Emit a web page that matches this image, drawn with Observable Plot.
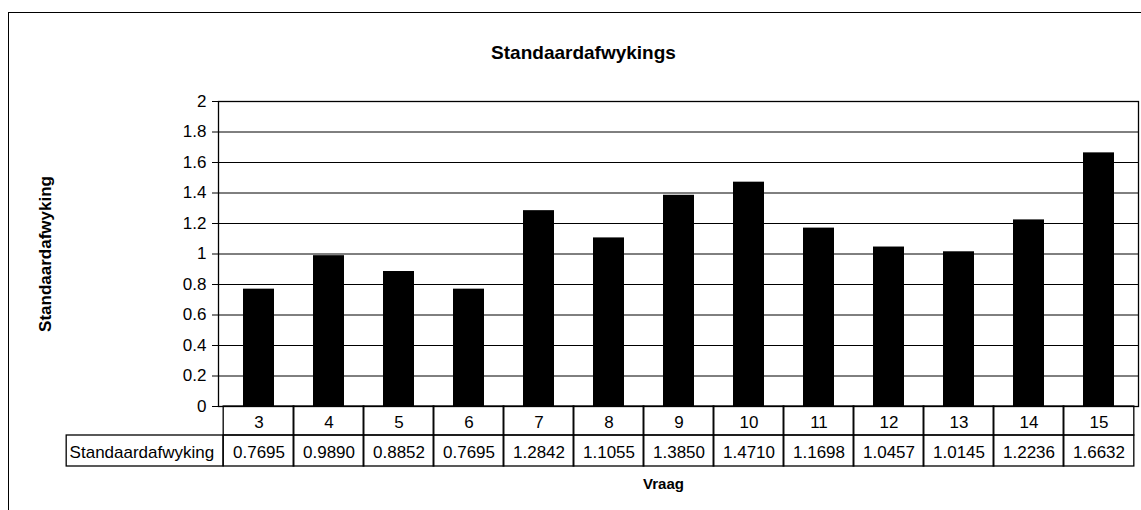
<!DOCTYPE html>
<html>
<head>
<meta charset="utf-8">
<script src="https://cdn.jsdelivr.net/npm/d3@7"></script>
<script src="https://cdn.jsdelivr.net/npm/@observablehq/plot@0.6"></script>
<style>
  html, body { margin: 0; padding: 0; background: #fff; }
  #wrap { position: relative; width: 1141px; height: 510px; overflow: hidden; }
  #outer { position: absolute; left: 8px; top: 12px; width: 1200px; height: 600px;
           border-left: 1.5px solid #000; border-top: 1.5px solid #000; pointer-events: none; }
  #wrap svg { position: absolute; left: 0; top: 0; }
</style>
</head>
<body>
<div id="wrap"><div id="outer"></div></div>
<script>
// ---- data ----
const categories = [3, 4, 5, 6, 7, 8, 9, 10, 11, 12, 13, 14, 15];
const values = [0.7695, 0.9890, 0.8852, 0.7695, 1.2842, 1.1055, 1.3850, 1.4710, 1.1698, 1.0457, 1.0145, 1.2236, 1.6632];
const yTicks = [0, 0.2, 0.4, 0.6, 0.8, 1, 1.2, 1.4, 1.6, 1.8, 2];
const titleText = "Standaardafwykings";
const yLabelText = "Standaardafwyking";
const xLabelText = "Vraag";
const rowHeader = "Standaardafwyking";

const data = categories.map((q, i) => ({q, v: values[i]}));

// ---- layout ----
const W = 1141, H = 510;
const mL = 218, mR = 3, mT = 101, mB = 104;
const frameW = W - mL - mR, frameH = H - mT - mB;
const pInner = 0.56;
const step = frameW / categories.length;
const bw = step * (1 - pInner);
const pad = step * pInner / 2;
const row1 = 29, row2 = 60;
const headerW = 157;

const chart = Plot.plot({
  width: W, height: H,
  marginLeft: mL, marginRight: mR, marginTop: mT, marginBottom: mB,
  style: {fontFamily: "'Liberation Sans', Arial, sans-serif", fontSize: "17px", color: "#000", background: "transparent"},
  x: {type: "band", domain: categories, paddingInner: pInner, paddingOuter: pInner / 2, axis: null},
  y: {domain: [0, 2], axis: null},
  marks: [
    Plot.gridY(yTicks, {stroke: "#000", strokeOpacity: 1, strokeWidth: 1}),
    Plot.barY(data, {x: "q", y: "v", fill: "#000"}),
    Plot.frame({stroke: "#000", strokeWidth: 1.3}),
    Plot.axisY({ticks: yTicks, tickSize: 6, tickPadding: 6, tickFormat: d => String(+d.toFixed(1)),
                fontSize: 17, label: null, stroke: "#000"}),
    // table: category row
    Plot.cell(data, {x: "q", fill: "none", stroke: "#000", strokeWidth: 1.3,
      insetTop: frameH, insetBottom: -row1, insetLeft: -pad, insetRight: -pad}),
    // table: value row
    Plot.cell(data, {x: "q", fill: "none", stroke: "#000", strokeWidth: 1.3,
      insetTop: frameH + row1, insetBottom: -row2, insetLeft: -pad, insetRight: -pad}),
    // header cell
    Plot.cell([categories[0]], {x: d => d, fill: "none", stroke: "#000", strokeWidth: 1.3,
      insetTop: frameH + row1, insetBottom: -row2, insetLeft: -(pad + headerW), insetRight: bw + pad}),
    Plot.text(data, {x: "q", text: d => String(d.q), frameAnchor: "bottom", lineAnchor: "middle", dy: 16, fontSize: 17}),
    Plot.text(data, {x: "q", text: d => d.v.toFixed(4), frameAnchor: "bottom", lineAnchor: "middle", dy: 46, fontSize: 17}),
    Plot.text([rowHeader], {x: () => categories[0], text: d => d, frameAnchor: "bottom", lineAnchor: "middle", dy: 46,
      dx: -(step / 2) - headerW + 3, textAnchor: "start", fontSize: 17}),
    // titles
    Plot.text([titleText], {text: d => d, frameAnchor: "top", lineAnchor: "middle", dy: -49, dx: -95, fontWeight: "bold", fontSize: 19}),
    Plot.text([yLabelText], {text: d => d, frameAnchor: "left", textAnchor: "middle", lineAnchor: "middle", dx: -173, rotate: -90, fontWeight: "bold", fontSize: 17}),
    Plot.text([xLabelText], {text: d => d, frameAnchor: "bottom", lineAnchor: "middle", dy: 78, dx: -15, fontWeight: "bold", fontSize: 15})
  ]
});
document.getElementById("wrap").appendChild(chart);
</script>
</body>
</html>
